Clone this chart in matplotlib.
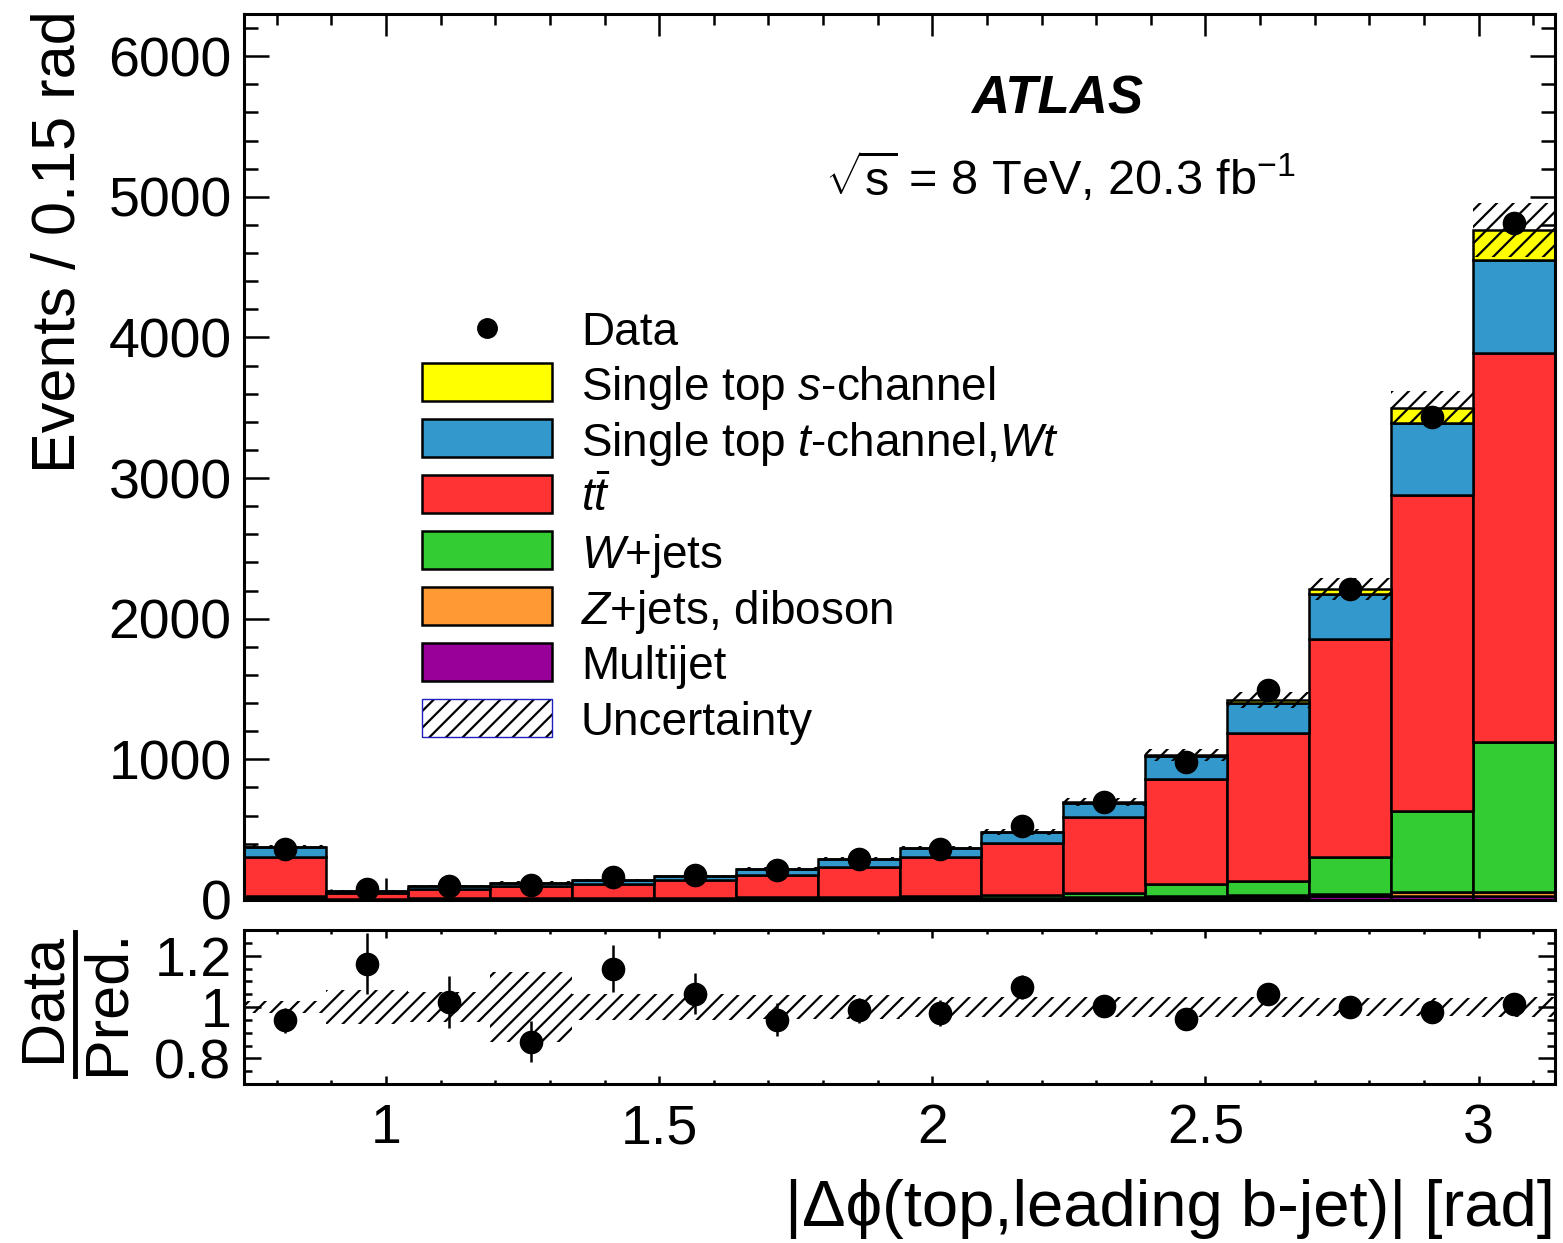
import numpy as np
import matplotlib
matplotlib.use('Agg')
import matplotlib.pyplot as plt
from matplotlib.patches import Rectangle
from matplotlib.lines import Line2D
from matplotlib.ticker import MultipleLocator, FuncFormatter

plt.rcParams['font.family'] = ['Liberation Sans', 'DejaVu Sans']
plt.rcParams['mathtext.fontset'] = 'custom'
plt.rcParams['mathtext.rm'] = 'Liberation Sans'
plt.rcParams['mathtext.it'] = 'Liberation Sans:italic'
plt.rcParams['mathtext.bf'] = 'Liberation Sans:bold'
plt.rcParams['hatch.linewidth'] = 1.6

# ---------------- data ----------------
bin_edges = [0.74, 0.89, 1.04, 1.19, 1.34, 1.49, 1.64, 1.79, 1.94,
             2.09, 2.24, 2.39, 2.54, 2.69, 2.84, 2.99, 3.14]
multijet = [10, 3, 4, 4, 5, 5, 6, 7, 8, 10, 14, 18, 22, 26, 30, 28]
zjets = [5, 2, 2, 2, 3, 3, 3, 4, 5, 6, 8, 10, 14, 18, 29, 31]
wjets = [12, 5, 6, 7, 8, 9, 10, 11, 13, 16, 25, 86, 100, 259, 573, 1065]
ttbar = [279, 41, 69, 85, 98, 122, 158, 215, 282, 370, 540, 745, 1052, 1555, 2251, 2763]
stop_t = [71, 14, 18, 21, 25, 32, 43, 56, 61, 79, 101, 164, 216, 320, 507, 663]
stop_s = [3, 1, 1, 1, 1, 1, 2, 2, 3, 4, 6, 7, 16, 31, 107, 216]
data = [360, 77, 102, 104, 161, 181, 211, 291, 363, 523, 696, 981, 1494, 2214, 3433, 4813]
data_err = [19, 9, 10, 10, 13, 13, 15, 17, 19, 23, 26, 31, 39, 47, 59, 69]
rel_unc = [0.025, 0.067, 0.06, 0.136, 0.05, 0.05, 0.045, 0.045, 0.04, 0.04,
           0.04, 0.04, 0.04, 0.035, 0.035, 0.04]
ratio = [0.948, 1.169, 1.02, 0.864, 1.15, 1.052, 0.951, 0.987, 0.977, 1.078,
         1.003, 0.952, 1.052, 1.0, 0.98, 1.013]
ratio_err = [0.05, 0.12, 0.10, 0.08, 0.09, 0.08, 0.065, 0.05, 0.05, 0.045,
             0.04, 0.03, 0.027, 0.02, 0.017, 0.015]

components = [
    ('Multijet', multijet, '#990099'),
    ('$Z$+jets, diboson', zjets, '#FF9933'),
    ('$W$+jets', wjets, '#33CC33'),
    (r'$t\bar{t}$', ttbar, '#FF3333'),
    ('Single top $t$-channel,$Wt$', stop_t, '#3399CC'),
    ('Single top $s$-channel', stop_s, '#FFFF00'),
]

W, H = 1563, 1243
def fx(px):
    return px / W
def fy(py):
    return 1 - py / H

fig = plt.figure(figsize=(W / 100, H / 100), dpi=100)
ax = fig.add_axes([fx(244), fy(900), (1555 - 244) / W, (900 - 14) / H])
rax = fig.add_axes([fx(244), fy(1084), (1555 - 244) / W, (1084 - 930) / H])

edges = np.array(bin_edges)
left = edges[:-1]
width = np.diff(edges)
centers = left + width / 2

bottom = np.zeros(len(left))
for name, vals, col in components:
    v = np.array(vals, dtype=float)
    ax.bar(left, v, width=width, bottom=bottom, align='edge', color=col,
           edgecolor='black', linewidth=1.8, zorder=2)
    bottom = bottom + v
total = bottom
unc = total * np.array(rel_unc)
ax.bar(left, 2 * unc, width=width, bottom=total - unc, align='edge',
       facecolor='none', edgecolor='black', linewidth=0, hatch='//', zorder=3)
ax.errorbar(centers, data, yerr=data_err, fmt='o', color='black', ms=16,
            elinewidth=1.8, capsize=0, zorder=4)

ax.set_xlim(0.74, 3.14)
ax.set_ylim(0, 6300)
ax.xaxis.set_major_locator(MultipleLocator(0.5))
ax.xaxis.set_minor_locator(MultipleLocator(0.1))
ax.yaxis.set_major_locator(MultipleLocator(1000))
ax.yaxis.set_minor_locator(MultipleLocator(200))
ax.tick_params(axis='both', which='both', direction='in', top=True, right=True, width=1.8)
ax.tick_params(axis='x', which='major', length=16, labelbottom=False)
ax.tick_params(axis='x', which='minor', length=8)
ax.tick_params(axis='y', which='major', length=18, labelsize=40, pad=9)
ax.tick_params(axis='y', which='minor', length=10)
for s in ax.spines.values():
    s.set_linewidth(2.2)

# ratio panel
runc = np.array(rel_unc)
rax.bar(left, 2 * runc, width=width, bottom=1 - runc, align='edge',
        facecolor='none', edgecolor='black', linewidth=0, hatch='//', zorder=2)
rax.errorbar(centers, ratio, yerr=ratio_err, fmt='o', color='black', ms=16,
             elinewidth=1.8, capsize=0, zorder=4)
rax.set_xlim(0.74, 3.14)
rax.set_ylim(0.7, 1.3)
rax.xaxis.set_major_locator(MultipleLocator(0.5))
rax.xaxis.set_minor_locator(MultipleLocator(0.1))
rax.yaxis.set_major_locator(MultipleLocator(0.2))
rax.yaxis.set_minor_locator(MultipleLocator(0.05))
rax.yaxis.set_major_formatter(FuncFormatter(lambda v, p: '%g' % round(v, 2)))
rax.xaxis.set_major_formatter(FuncFormatter(lambda v, p: '%g' % round(v, 2)))
rax.tick_params(axis='both', which='both', direction='in', top=True, right=True, width=1.8)
rax.tick_params(axis='x', which='major', length=6, labelsize=40, pad=14)
rax.tick_params(axis='x', which='minor', length=3)
rax.tick_params(axis='y', which='major', length=12, labelsize=40, pad=9)
rax.tick_params(axis='y', which='minor', length=6)
for s in rax.spines.values():
    s.set_linewidth(2.2)

# labels
fig.text(fx(1555), fy(1226), '|Δϕ(top,leading b-jet)| [rad]', ha='right',
         va='baseline', fontsize=47)
fig.text(fx(60), fy(10), 'Events / 0.15 rad', rotation=90, ha='center',
         va='top', fontsize=44)
fig.text(fx(44), fy(997), 'Data', rotation=90, ha='center', va='center', fontsize=44)
fig.text(fx(108), fy(1002), 'Pred.', rotation=90, ha='center', va='center', fontsize=44)
fig.add_artist(Line2D([fx(75), fx(75)], [fy(932), fy(1076)], color='black', lw=3.5))

fig.text(fx(1057), fy(100), 'ATLAS', ha='center', va='center', fontsize=38,
         fontweight='bold', fontstyle='italic')
fig.text(fx(1060), fy(178), r'$\sqrt{\mathrm{s}}$ = 8 TeV, 20.3 fb$^{\mathrm{-1}}$', ha='center',
         va='center', fontsize=35)

# legend
leg_rows = [('Data', None)] + [(c[0], c[2]) for c in components[::-1]] + [('Uncertainty', 'unc')]
row_y = [328, 382, 438, 494, 550, 606, 662, 718]
for (lab, col), yy in zip(leg_rows, row_y):
    if col is None:
        fig.add_artist(Line2D([fx(487)], [fy(yy)], marker='o', color='black', ms=14,
                              linestyle='none'))
    elif col == 'unc':
        fig.add_artist(Rectangle((fx(422), fy(yy + 19)), (552 - 422) / W, 38 / H,
                                 facecolor='white', edgecolor='black', linewidth=0,
                                 hatch='//', transform=fig.transFigure))
        fig.add_artist(Rectangle((fx(422), fy(yy + 19)), (552 - 422) / W, 38 / H,
                                 facecolor='none', edgecolor='#2020c0', linewidth=1.0,
                                 transform=fig.transFigure))
    else:
        fig.add_artist(Rectangle((fx(422), fy(yy + 19)), (552 - 422) / W, 38 / H,
                                 facecolor=col, edgecolor='black', linewidth=1.8,
                                 transform=fig.transFigure))
    fig.text(fx(581), fy(yy), lab, ha='left', va='center_baseline', fontsize=33)

fig.savefig('out.png', dpi=100)
